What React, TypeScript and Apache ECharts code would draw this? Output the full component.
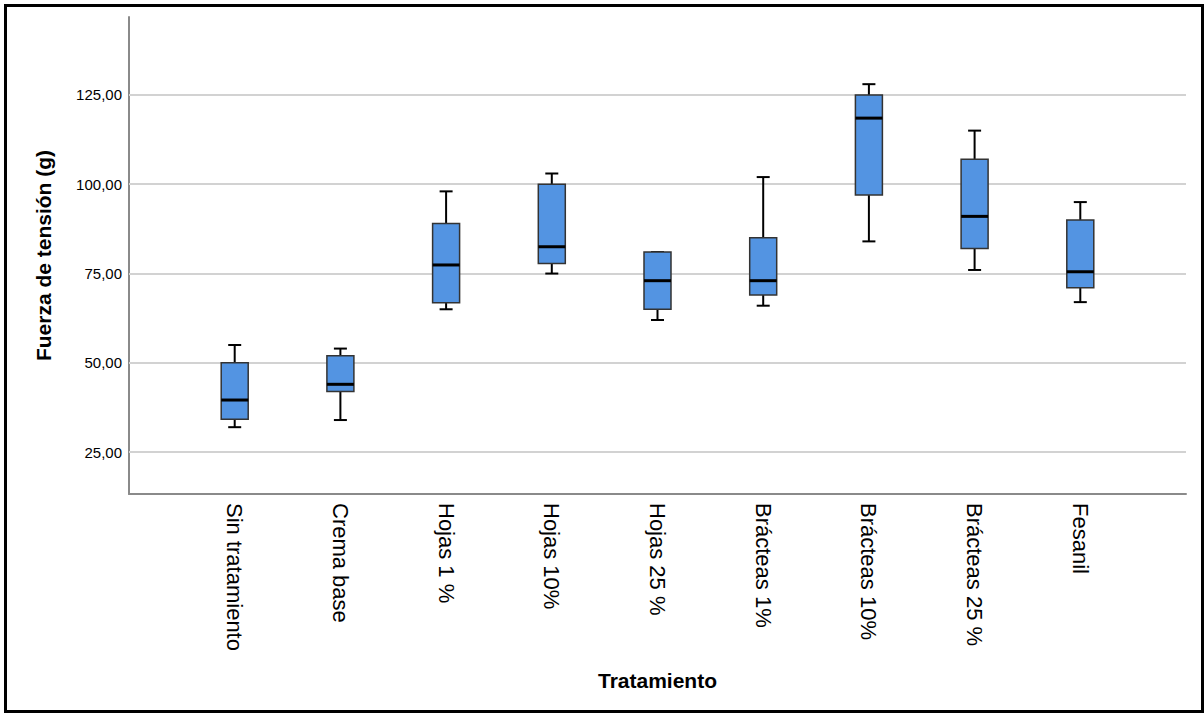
import React, { useEffect, useRef } from "react";
import * as echarts from "echarts";

const categories = [
  "Sin tratamiento",
  "Crema base",
  "Hojas 1 %",
  "Hojas 10%",
  "Hojas 25 %",
  "Brácteas 1%",
  "Brácteas 10%",
  "Brácteas 25 %",
  "Fesanil",
];
const mins = [32, 34, 65, 75, 62, 66, 84, 76, 67];
const q1s = [34.2, 42, 66.8, 77.8, 65, 69, 97, 82, 71];
const medians = [39.6, 44, 77.4, 82.5, 73, 73, 118.5, 91, 75.5];
const q3s = [50, 52, 89, 100, 81, 85, 125, 107, 90];
const maxs = [55, 54, 98, 103, 81, 102, 128, 115, 95];
const yTicks = [25, 50, 75, 100, 125];

const FONT = "'Liberation Sans', Arial, sans-serif";

export default function App() {
  const ref = useRef<HTMLDivElement>(null);

  useEffect(() => {
    if (!ref.current) return;
    const chart = echarts.init(ref.current, undefined, { renderer: "svg" });

    const axisCats = [" ", ...categories, "  "];
    const boxData = categories.map((_, i) => [
      i + 1,
      mins[i],
      q1s[i],
      medians[i],
      q3s[i],
      maxs[i],
    ]);

    const option: any = {
      animation: false,
      backgroundColor: "#fff",
      grid: { left: 129, right: 18, top: 17, bottom: 219, containLabel: false },
      xAxis: {
        type: "category",
        data: axisCats,
        boundaryGap: false,
        axisLine: { show: true, lineStyle: { color: "#8a8a8a", width: 2 } },
        axisTick: { show: false },
        splitLine: { show: false },
        axisLabel: {
          interval: 0,
          rotate: -90,
          margin: 9,
          fontSize: 22,
          color: "#000",
          fontFamily: FONT,
        },
        name: "Tratamiento",
        nameLocation: "middle",
        nameGap: 176,
        nameTextStyle: {
          fontSize: 21,
          fontWeight: "bold",
          color: "#000",
          fontFamily: FONT,
        },
      },
      yAxis: {
        type: "value",
        min: 13.3,
        max: 146.8,
        axisLine: { show: true, lineStyle: { color: "#8a8a8a", width: 2 } },
        axisTick: { show: false },
        axisLabel: { show: false },
        splitLine: { show: false },
        name: "Fuerza de tensión (g)",
        nameLocation: "middle",
        nameGap: 75,
        nameTextStyle: {
          fontSize: 21,
          fontWeight: "bold",
          color: "#000",
          fontFamily: FONT,
        },
      },
      graphic: [
        {
          type: "rect",
          shape: { x: 5.5, y: 5.5, width: 1197, height: 706 },
          style: { fill: "none", stroke: "#000", lineWidth: 3 },
          silent: true,
          z: 100,
        },
      ],
      series: [
        {
          type: "line",
          data: [],
          z: 1,
          markLine: {
            silent: true,
            symbol: ["none", "none"],
            z: 1,
            lineStyle: { color: "#d2d2d2", width: 2, type: "solid" },
            label: {
              show: true,
              position: "start",
              distance: 7,
              fontSize: 15,
              color: "#000",
              fontFamily: FONT,
              formatter: (p: any) =>
                Number(p.value).toFixed(2).replace(".", ","),
            },
            emphasis: { disabled: true },
            data: yTicks.map((v) => ({ yAxis: v })),
          },
        },
        {
          type: "custom",
          z: 10,
          data: boxData,
          encode: { x: 0, y: [1, 2, 3, 4, 5] },
          renderItem: (params: any, api: any) => {
            const x = api.value(0);
            const pMin = api.coord([x, api.value(1)]);
            const pQ1 = api.coord([x, api.value(2)]);
            const pMed = api.coord([x, api.value(3)]);
            const pQ3 = api.coord([x, api.value(4)]);
            const pMax = api.coord([x, api.value(5)]);
            const cx = pMin[0];
            const bw = 27;
            const cw = 13;
            const wStyle = { stroke: "#000", lineWidth: 2 };
            return {
              type: "group",
              children: [
                {
                  type: "line",
                  shape: { x1: cx, y1: pMax[1], x2: cx, y2: pQ3[1] },
                  style: wStyle,
                },
                {
                  type: "line",
                  shape: { x1: cx, y1: pQ1[1], x2: cx, y2: pMin[1] },
                  style: wStyle,
                },
                {
                  type: "line",
                  shape: { x1: cx - cw / 2, y1: pMax[1], x2: cx + cw / 2, y2: pMax[1] },
                  style: wStyle,
                },
                {
                  type: "line",
                  shape: { x1: cx - cw / 2, y1: pMin[1], x2: cx + cw / 2, y2: pMin[1] },
                  style: wStyle,
                },
                {
                  type: "rect",
                  shape: {
                    x: cx - bw / 2,
                    y: pQ3[1],
                    width: bw,
                    height: pQ1[1] - pQ3[1],
                  },
                  style: { fill: "#5394E2", stroke: "#333", lineWidth: 1.5 },
                },
                {
                  type: "line",
                  shape: { x1: cx - bw / 2, y1: pMed[1], x2: cx + bw / 2, y2: pMed[1] },
                  style: { stroke: "#000", lineWidth: 3 },
                },
              ],
            };
          },
        },
      ],
    };

    chart.setOption(option);
    return () => chart.dispose();
  }, []);

  return (
    <div
      ref={ref}
      style={{ position: "fixed", left: 0, top: 0, width: 1204, height: 713 }}
    />
  );
}
